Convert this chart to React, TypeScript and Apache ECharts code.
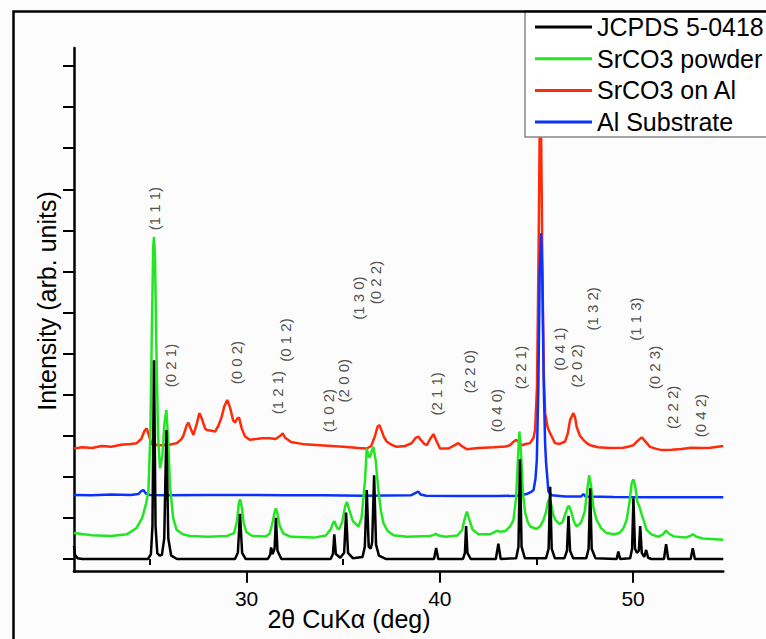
import React, { useEffect, useRef } from 'react';
import * as echarts from 'echarts';

const FONT = "'Liberation Sans', Arial, Helvetica, sans-serif";

const X_MIN = 21.07;
const X_MAX = 54.67;
const Y_MIN = -31;
const Y_MAX = 1244;

const xMajorTicks = [30, 40, 50];
const xMinorTicks = [25, 35, 45];
const yTicks = [0, 100, 200, 300, 400, 500, 600, 700, 800, 900, 1000, 1100, 1200];

const seriesNames = ['JCPDS 5-0418', 'SrCO3 powder', 'SrCO3 on Al', 'Al Substrate'];
const seriesColors = ['#000000', '#22e622', '#ff2a0a', '#0a32ff'];

// JCPDS 5-0418 reference pattern [2θ, intensity]
const jcpds = [
  [21.07, 32], [21.12, 10], [21.25, 2], [21.5, 0],
  [24.9, 0], [25.05, 12], [25.13, 80], [25.21, 484], [25.29, 80], [25.38, 14], [25.5, 8], [25.62, 10], [25.74, 50], [25.85, 314], [25.95, 50], [26.1, 8], [26.4, 0],
  [29.4, 0], [29.55, 15], [29.66, 110], [29.77, 15], [29.95, 0],
  [31.1, 0], [31.22, 10], [31.27, 28], [31.35, 12], [31.45, 25], [31.52, 100], [31.6, 20], [31.8, 0],
  [34.35, 0], [34.47, 12], [34.54, 60], [34.62, 12], [34.85, 3], [35.05, 15], [35.15, 113], [35.25, 15], [35.5, 2],
  [36.0, 5], [36.12, 30], [36.22, 168], [36.32, 30], [36.42, 25], [36.5, 40], [36.6, 204], [36.7, 35], [36.85, 8], [37.2, 0],
  [39.7, 0], [39.81, 27], [39.92, 0],
  [41.2, 0], [41.3, 15], [41.36, 80], [41.43, 15], [41.6, 0],
  [42.9, 0], [43.03, 37], [43.15, 0],
  [43.95, 2], [44.07, 30], [44.15, 243], [44.23, 30], [44.4, 2],
  [45.5, 2], [45.63, 25], [45.71, 176], [45.79, 25], [45.95, 2],
  [46.45, 2], [46.58, 20], [46.66, 105], [46.74, 20], [46.9, 2],
  [47.58, 2], [47.7, 25], [47.78, 172], [47.86, 25], [48.05, 2],
  [49.15, 0], [49.24, 18], [49.33, 0],
  [49.85, 2], [49.95, 25], [50.02, 148], [50.1, 25], [50.2, 15], [50.3, 20], [50.37, 80], [50.45, 15], [50.58, 5], [50.68, 22], [50.78, 3], [50.95, 0],
  [51.6, 0], [51.71, 36], [51.82, 0],
  [52.98, 0], [53.09, 26], [53.2, 0],
  [54.67, 0],
];

// SrCO3 powder
const powder = [
  [21.07, 63], [22.0, 58], [23.0, 56], [23.8, 60], [24.3, 75], [24.6, 100], [24.8, 135], [24.92, 165], [25.02, 300], [25.1, 560], [25.17, 760], [25.21, 784], [25.26, 740], [25.33, 520], [25.42, 300], [25.52, 221],
  [25.64, 250], [25.75, 330], [25.85, 363], [25.95, 280], [26.04, 176], [26.2, 100], [26.38, 71], [26.7, 60], [27.07, 56], [28.0, 54], [29.0, 56],
  [29.35, 63], [29.5, 90], [29.6, 135], [29.66, 145], [29.74, 130], [29.85, 88], [30.0, 65], [30.3, 56], [31.0, 55],
  [31.2, 62], [31.35, 90], [31.47, 118], [31.52, 123], [31.6, 110], [31.72, 80], [31.9, 62], [32.3, 54], [33.5, 52],
  [34.1, 57], [34.35, 72], [34.5, 90], [34.55, 91], [34.68, 76], [34.78, 72], [34.95, 90], [35.1, 128], [35.19, 139], [35.3, 122], [35.5, 92], [35.79, 79],
  [35.95, 100], [36.05, 150], [36.13, 192], [36.22, 269], [36.31, 250], [36.39, 248], [36.47, 262], [36.56, 273], [36.68, 240], [36.82, 168], [36.95, 118], [37.08, 88], [37.3, 68], [37.6, 58],
  [38.3, 54], [39.5, 56], [39.65, 58], [39.79, 61], [39.95, 57], [40.3, 54],
  [40.9, 57], [41.15, 70], [41.3, 100], [41.4, 115], [41.5, 100], [41.7, 71], [42.0, 60], [42.6, 60], [42.85, 66], [42.98, 69], [43.12, 66],
  [43.4, 68], [43.65, 80], [43.81, 95], [43.95, 150], [44.05, 250], [44.12, 310], [44.2, 260], [44.3, 160], [44.42, 112], [44.55, 90], [44.68, 79],
  [45.0, 73], [45.2, 80], [45.37, 95], [45.5, 115], [45.6, 140], [45.68, 148], [45.78, 130], [45.88, 105], [45.98, 95], [46.2, 85],
  [46.35, 90], [46.5, 110], [46.62, 127], [46.69, 129], [46.8, 115], [46.95, 90], [47.08, 79],
  [47.3, 88], [47.5, 115], [47.62, 165], [47.73, 204], [47.82, 180], [47.95, 125], [48.11, 95], [48.35, 75], [48.63, 63], [49.0, 60],
  [49.3, 63], [49.5, 75], [49.67, 95], [49.82, 140], [49.93, 185], [50.02, 194], [50.12, 175], [50.22, 140], [50.33, 127], [50.45, 108], [50.54, 95], [50.7, 71], [50.95, 60],
  [51.3, 54], [51.55, 60], [51.71, 69], [51.85, 62], [52.1, 55], [52.7, 52], [52.95, 56], [53.09, 60], [53.25, 55], [53.6, 50], [54.67, 47],
];

// SrCO3 on Al
const onAl = [
  [21.07, 269], [21.5, 272], [22.0, 270], [22.5, 275], [23.0, 273], [23.5, 278], [24.0, 280], [24.31, 282], [24.55, 292], [24.72, 312], [24.83, 318], [24.95, 300], [25.09, 280],
  [25.5, 277], [26.0, 278], [26.38, 282], [26.6, 290], [26.73, 300], [26.9, 325], [26.99, 332], [27.1, 318], [27.25, 302], [27.4, 325], [27.56, 355], [27.7, 340], [27.85, 318], [27.94, 314],
  [28.2, 312], [28.37, 310], [28.55, 325], [28.71, 346], [28.85, 372], [29.0, 387], [29.15, 368], [29.3, 338], [29.4, 332], [29.52, 342], [29.61, 344], [29.75, 318], [29.92, 298], [30.18, 290],
  [30.5, 292], [30.8, 294], [31.2, 294], [31.5, 292], [31.75, 300], [31.87, 306], [32.0, 295], [32.3, 285], [33.0, 279], [34.0, 276], [35.0, 273], [35.8, 270], [36.22, 269],
  [36.45, 275], [36.65, 300], [36.78, 322], [36.87, 326], [36.97, 315], [37.1, 298], [37.25, 286], [37.5, 278], [37.77, 273], [38.2, 275],
  [38.55, 282], [38.75, 295], [38.89, 298], [39.05, 288], [39.2, 280], [39.33, 277], [39.5, 292], [39.67, 304], [39.8, 290], [40.01, 269],
  [40.45, 269], [40.8, 278], [40.96, 282], [41.1, 276], [41.4, 267], [42.0, 270], [42.8, 272], [43.4, 274], [43.64, 277], [43.8, 285], [43.95, 290], [44.1, 284], [44.24, 277],
  [44.45, 280], [44.67, 282], [44.85, 295], [44.93, 314], [45.03, 420], [45.1, 700], [45.16, 1000], [45.2, 1150], [45.25, 1000], [45.31, 700], [45.38, 450], [45.45, 355], [45.58, 320], [45.71, 306], [45.96, 282],
  [46.2, 280], [46.48, 286], [46.62, 305], [46.74, 338], [46.91, 355], [47.0, 345], [47.08, 322], [47.25, 300], [47.43, 290], [47.6, 282], [47.78, 277],
  [48.2, 272], [48.8, 270], [49.5, 271], [49.8, 274], [50.02, 277], [50.25, 288], [50.45, 296], [50.6, 288], [50.88, 273], [51.2, 268], [51.5, 265],
  [52.0, 266], [52.5, 268], [53.0, 271], [53.5, 270], [54.0, 271], [54.67, 275],
];

// Al substrate
const substrate = [
  [21.07, 156], [22.0, 155], [23.0, 157], [24.0, 156], [24.4, 158], [24.55, 165], [24.66, 168], [24.78, 160], [25.0, 156],
  [26.0, 155], [28.0, 156], [30.0, 156], [32.0, 155], [34.0, 155], [36.0, 154], [38.5, 155], [38.8, 162], [38.89, 164], [39.0, 157], [39.3, 154],
  [41.0, 153], [43.0, 153], [44.0, 154], [44.5, 158], [44.75, 164], [44.85, 168], [44.95, 195], [45.02, 241], [45.1, 420], [45.17, 700], [45.24, 793],
  [45.3, 700], [45.38, 420], [45.45, 280], [45.5, 234], [45.62, 164], [45.8, 155], [46.5, 152], [47.3, 152], [47.43, 158], [47.55, 152],
  [49.0, 151], [51.0, 150], [53.0, 150], [54.67, 150],
];

// Miller index annotations
const annotationLabels = ['(1 1 1)', '(0 2 1)', '(0 0 2)', '(1 2 1)', '(0 1 2)', '(1 0 2)', '(2 0 0)', '(1 3 0)', '(0 2 2)', '(2 1 1)',
  '(2 2 0)', '(0 4 0)', '(2 2 1)', '(0 4 1)', '(2 0 2)', '(1 3 2)', '(1 1 3)', '(0 2 3)', '(2 2 2)', '(0 4 2)'];
const annotationX = [25.26, 26.04, 29.49, 31.61, 32.04, 34.23, 35.01, 35.79, 36.65, 39.84,
  41.53, 42.95, 44.19, 46.19, 47.05, 47.92, 50.11, 51.09, 52.06, 53.47];
const annotationY = [853, 471, 478, 405, 533, 361, 434, 635, 673, 402,
  456, 361, 466, 511, 470, 609, 584, 466, 369, 349];

export default function App() {
  const ref = useRef<HTMLDivElement>(null);

  useEffect(() => {
    if (!ref.current) return;
    const chart = echarts.init(ref.current, undefined, { renderer: 'svg' });
    const lineSeries = (name: string, data: number[][], color: string) => ({
      name,
      type: 'line',
      data,
      symbol: 'none',
      showSymbol: false,
      lineStyle: { color, width: 2.5 },
      itemStyle: { color },
      silent: true,
    });
    const axisLineStyle = { color: '#000', width: 2.5 };
    chart.setOption({
      animation: false,
      backgroundColor: '#fcfcfc',
      grid: { left: 74, right: 42.7, top: 48, bottom: 67.3 },
      xAxis: [
        {
          type: 'value',
          min: X_MIN,
          max: X_MAX,
          axisLine: { show: true, onZero: false, lineStyle: axisLineStyle },
          axisTick: { show: true, customValues: xMajorTicks, length: 11, lineStyle: { color: '#000', width: 2 } },
          axisLabel: { show: true, customValues: xMajorTicks, fontSize: 21, color: '#000', fontFamily: FONT, margin: 16 },
          splitLine: { show: false },
        },
        {
          type: 'value',
          min: X_MIN,
          max: X_MAX,
          position: 'bottom',
          axisLine: { show: false },
          axisTick: { show: true, customValues: xMinorTicks, length: 6, lineStyle: { color: '#000', width: 2 } },
          axisLabel: { show: false },
          splitLine: { show: false },
        },
      ],
      yAxis: {
        type: 'value',
        min: Y_MIN,
        max: Y_MAX,
        axisLine: { show: true, onZero: false, lineStyle: axisLineStyle },
        axisTick: { show: true, customValues: yTicks, length: 11, lineStyle: { color: '#000', width: 2 } },
        axisLabel: { show: false },
        splitLine: { show: false },
      },
      legend: {
        data: seriesNames,
        orient: 'vertical',
        left: 525,
        top: 11,
        icon: 'rect',
        itemWidth: 57,
        itemHeight: 3,
        itemGap: 3.7,
        textStyle: { fontSize: 25, color: '#000', fontFamily: FONT, lineHeight: 28 },
        backgroundColor: '#ffffff',
        borderColor: '#888',
        borderWidth: 1.5,
        padding: [2, 40, 1, 10],
        selectedMode: false,
      },
      graphic: [
        {
          type: 'rect',
          silent: true,
          z: 100,
          shape: { x: 13.5, y: 11.5, width: 1000, height: 1000 },
          style: { fill: 'none', stroke: '#000', lineWidth: 2.5 },
        },
        {
          type: 'text',
          x: 349,
          y: 619,
          silent: true,
          style: { text: '2θ CuKα (deg)', fontSize: 25, fontFamily: FONT, fill: '#000', align: 'center', verticalAlign: 'middle' },
        },
        {
          type: 'text',
          x: 47,
          y: 301,
          rotation: Math.PI / 2,
          silent: true,
          style: { text: 'Intensity (arb. units)', fontSize: 25, fontFamily: FONT, fill: '#000', align: 'center', verticalAlign: 'middle' },
        },
      ],
      series: [
        lineSeries(seriesNames[2], onAl, seriesColors[2]),
        lineSeries(seriesNames[3], substrate, seriesColors[3]),
        lineSeries(seriesNames[1], powder, seriesColors[1]),
        lineSeries(seriesNames[0], jcpds, seriesColors[0]),
        {
          name: 'hkl',
          type: 'scatter',
          data: annotationX.map((x, i) => [x, annotationY[i]]),
          symbolSize: 1,
          itemStyle: { color: 'rgba(0,0,0,0)' },
          silent: true,
          z: 5,
          label: {
            show: true,
            position: 'inside',
            rotate: 90,
            align: 'center',
            verticalAlign: 'middle',
            fontSize: 15,
            color: '#222',
            fontFamily: FONT,
            formatter: (p: any) => annotationLabels[p.dataIndex],
          },
        },
      ],
    });
    return () => chart.dispose();
  }, []);

  return <div ref={ref} style={{ position: 'fixed', left: 0, top: 0, width: 766, height: 639 }} />;
}
